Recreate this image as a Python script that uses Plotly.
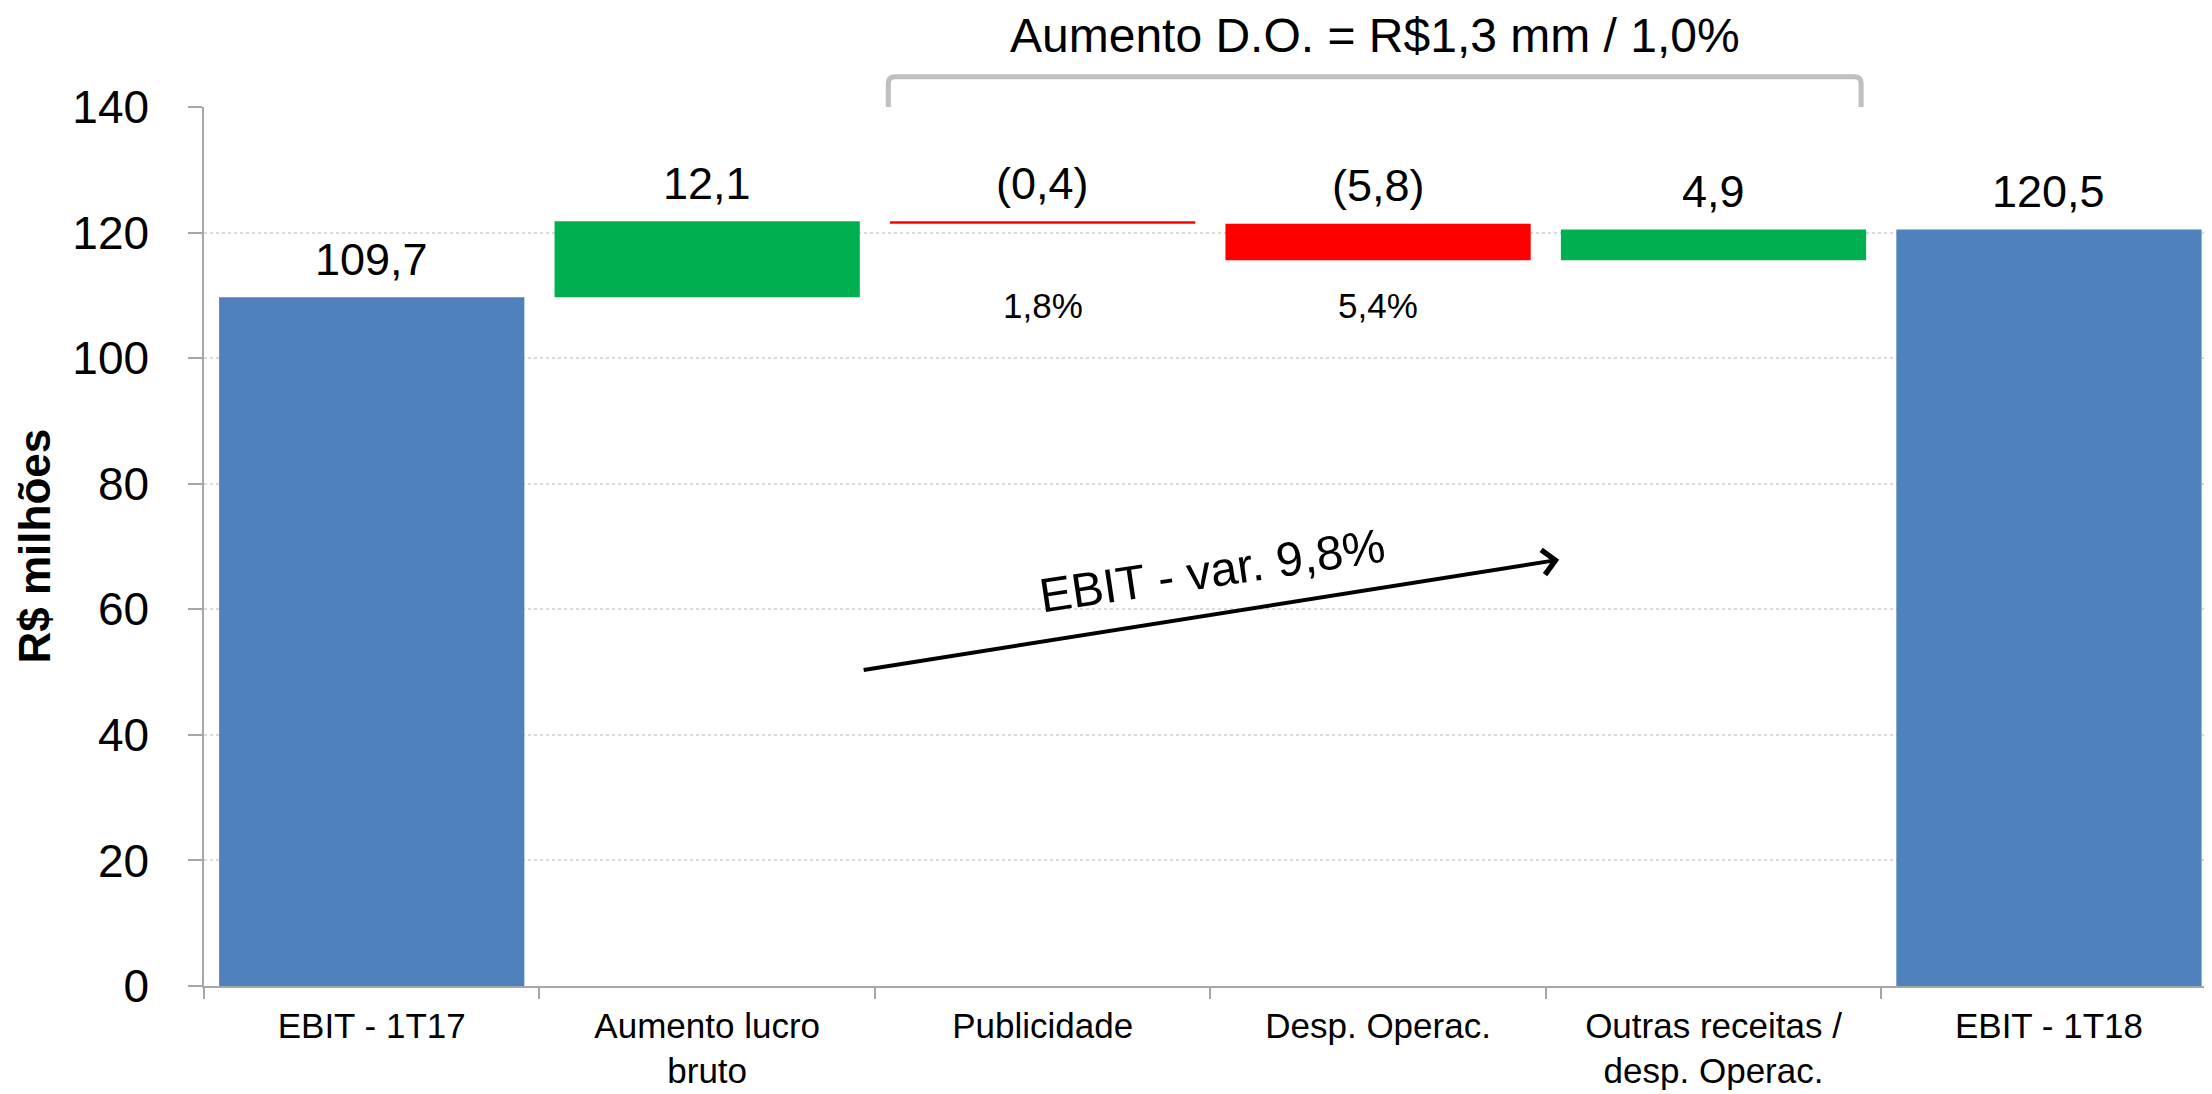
import plotly.graph_objects as go

categories = ["EBIT - 1T17", "Aumento lucro<br>bruto", "Publicidade", "Desp. Operac.",
              "Outras receitas /<br>desp. Operac.", "EBIT - 1T18"]
values = [109.7, 12.1, -0.4, -5.8, 4.9, 120.5]
measures = ["absolute", "relative", "relative", "relative", "relative", "total"]
pct_labels = ["", "", "1,8%", "5,4%", "", ""]
pct_level = 108.4
title_text = "Aumento D.O. = R$1,3 mm / 1,0%"
arrow_text = "EBIT - var. 9,8%"
y_ticks = [0, 20, 40, 60, 80, 100, 120, 140]

BLUE = "#4F81BD"
GREEN = "#00B050"
RED = "#FF0000"
FONT = "Liberation Sans, Arial, sans-serif"
AXIS_GRAY = "#A6A6A6"

# the page body has an 8px default margin: size the figure so it fills the window
W, H = 2204, 1086
ML, MR, MT, MB = 196, 0, 99, 108


def fmt(v):
    s = f"{abs(v):.1f}".replace(".", ",")
    return f"({s})" if v < 0 else s


fig = go.Figure()
fig.add_trace(go.Waterfall(
    x=categories,
    y=values,
    measure=measures,
    width=[0.91] * len(categories),
    increasing=dict(marker=dict(color=GREEN, line=dict(width=0))),
    decreasing=dict(marker=dict(color=RED, line=dict(width=0))),
    totals=dict(marker=dict(color=BLUE, line=dict(width=0))),
    connector=dict(visible=False),
    textinfo="none",
    hoverinfo="x+y",
))

# value labels above each bar top
annotations = []
running = 0.0
for cat, v, m in zip(categories, values, measures):
    if m == "absolute":
        start, end = 0.0, v
        running = v
    elif m == "total":
        start, end = 0.0, running
    else:
        start, end = running, running + v
        running = end
    top = max(start, end)
    annotations.append(dict(
        x=cat, y=top, xref="x", yref="y", text=fmt(v), showarrow=False,
        xanchor="center", yanchor="middle", yshift=38,
        font=dict(family=FONT, size=45, color="black"),
    ))

for cat, p in zip(categories, pct_labels):
    if p:
        annotations.append(dict(
            x=cat, y=pct_level, xref="x", yref="y", text=p, showarrow=False,
            xanchor="center", yanchor="middle",
            font=dict(family=FONT, size=35, color="black"),
        ))

# title over the bracket
annotations.append(dict(
    x=2.99, y=1.0815, xref="x", yref="paper", text=title_text, showarrow=False,
    xanchor="center", yanchor="middle", font=dict(family=FONT, size=48, color="black"),
))

# arrow
annotations.append(dict(
    x=3.54, y=67.9, ax=1.462, ay=50.3, xref="x", yref="y", axref="x", ayref="y",
    text="", showarrow=True, arrowhead=4, arrowsize=1.2, arrowwidth=4,
    arrowcolor="black", standoff=0, startstandoff=0,
))
annotations.append(dict(
    x=2.506, y=66.1, xref="x", yref="y", text=arrow_text, showarrow=False,
    xanchor="center", yanchor="middle",
    textangle=-8.5, font=dict(family=FONT, size=48, color="black"),
))

# y axis title
annotations.append(dict(
    x=(26 - ML) / (W - ML - MR), y=0.5, xref="paper", yref="paper",
    text="<b>R$ milhões</b>", showarrow=False, xanchor="center", yanchor="middle",
    textangle=-90, font=dict(family=FONT, size=44, color="black"),
))

fig.update_layout(
    width=W, height=H,
    margin=dict(l=ML, r=MR, t=MT, b=MB, autoexpand=False),
    plot_bgcolor="white", paper_bgcolor="white",
    showlegend=False,
    separators=",.",
    font=dict(family=FONT, color="black"),
    annotations=annotations,
    shapes=[dict(
        type="path", xref="x", yref="paper",
        path="M 1.54,1.0 L 1.54,1.027 Q 1.54,1.0345 1.56,1.0345 L 4.42,1.0345 Q 4.44,1.0345 4.44,1.027 L 4.44,1.0",
        line=dict(color="#BFBFBF", width=5),
    )],
)

fig.update_xaxes(
    type="category",
    range=[-0.5, 5.486],
    automargin=False,
    showline=True, linecolor=AXIS_GRAY, linewidth=1.5,
    ticks="outside", tickson="boundaries", ticklen=11, tickcolor=AXIS_GRAY, tickwidth=1.5,
    tickfont=dict(family=FONT, size=35, color="black"),
    ticklabelstandoff=8,
    showgrid=False, zeroline=False,
)
fig.update_yaxes(
    range=[0, 140], tickvals=y_ticks,
    automargin=False,
    showline=True, linecolor=AXIS_GRAY, linewidth=1.5,
    ticks="outside", ticklen=14, tickcolor=AXIS_GRAY, tickwidth=1.5,
    tickfont=dict(family=FONT, size=46, color="black"),
    ticklabelstandoff=30,
    showgrid=True, gridcolor="#D9D9D9", gridwidth=1.5, griddash="dot",
    zeroline=False,
)

fig.write_html("out.html")
